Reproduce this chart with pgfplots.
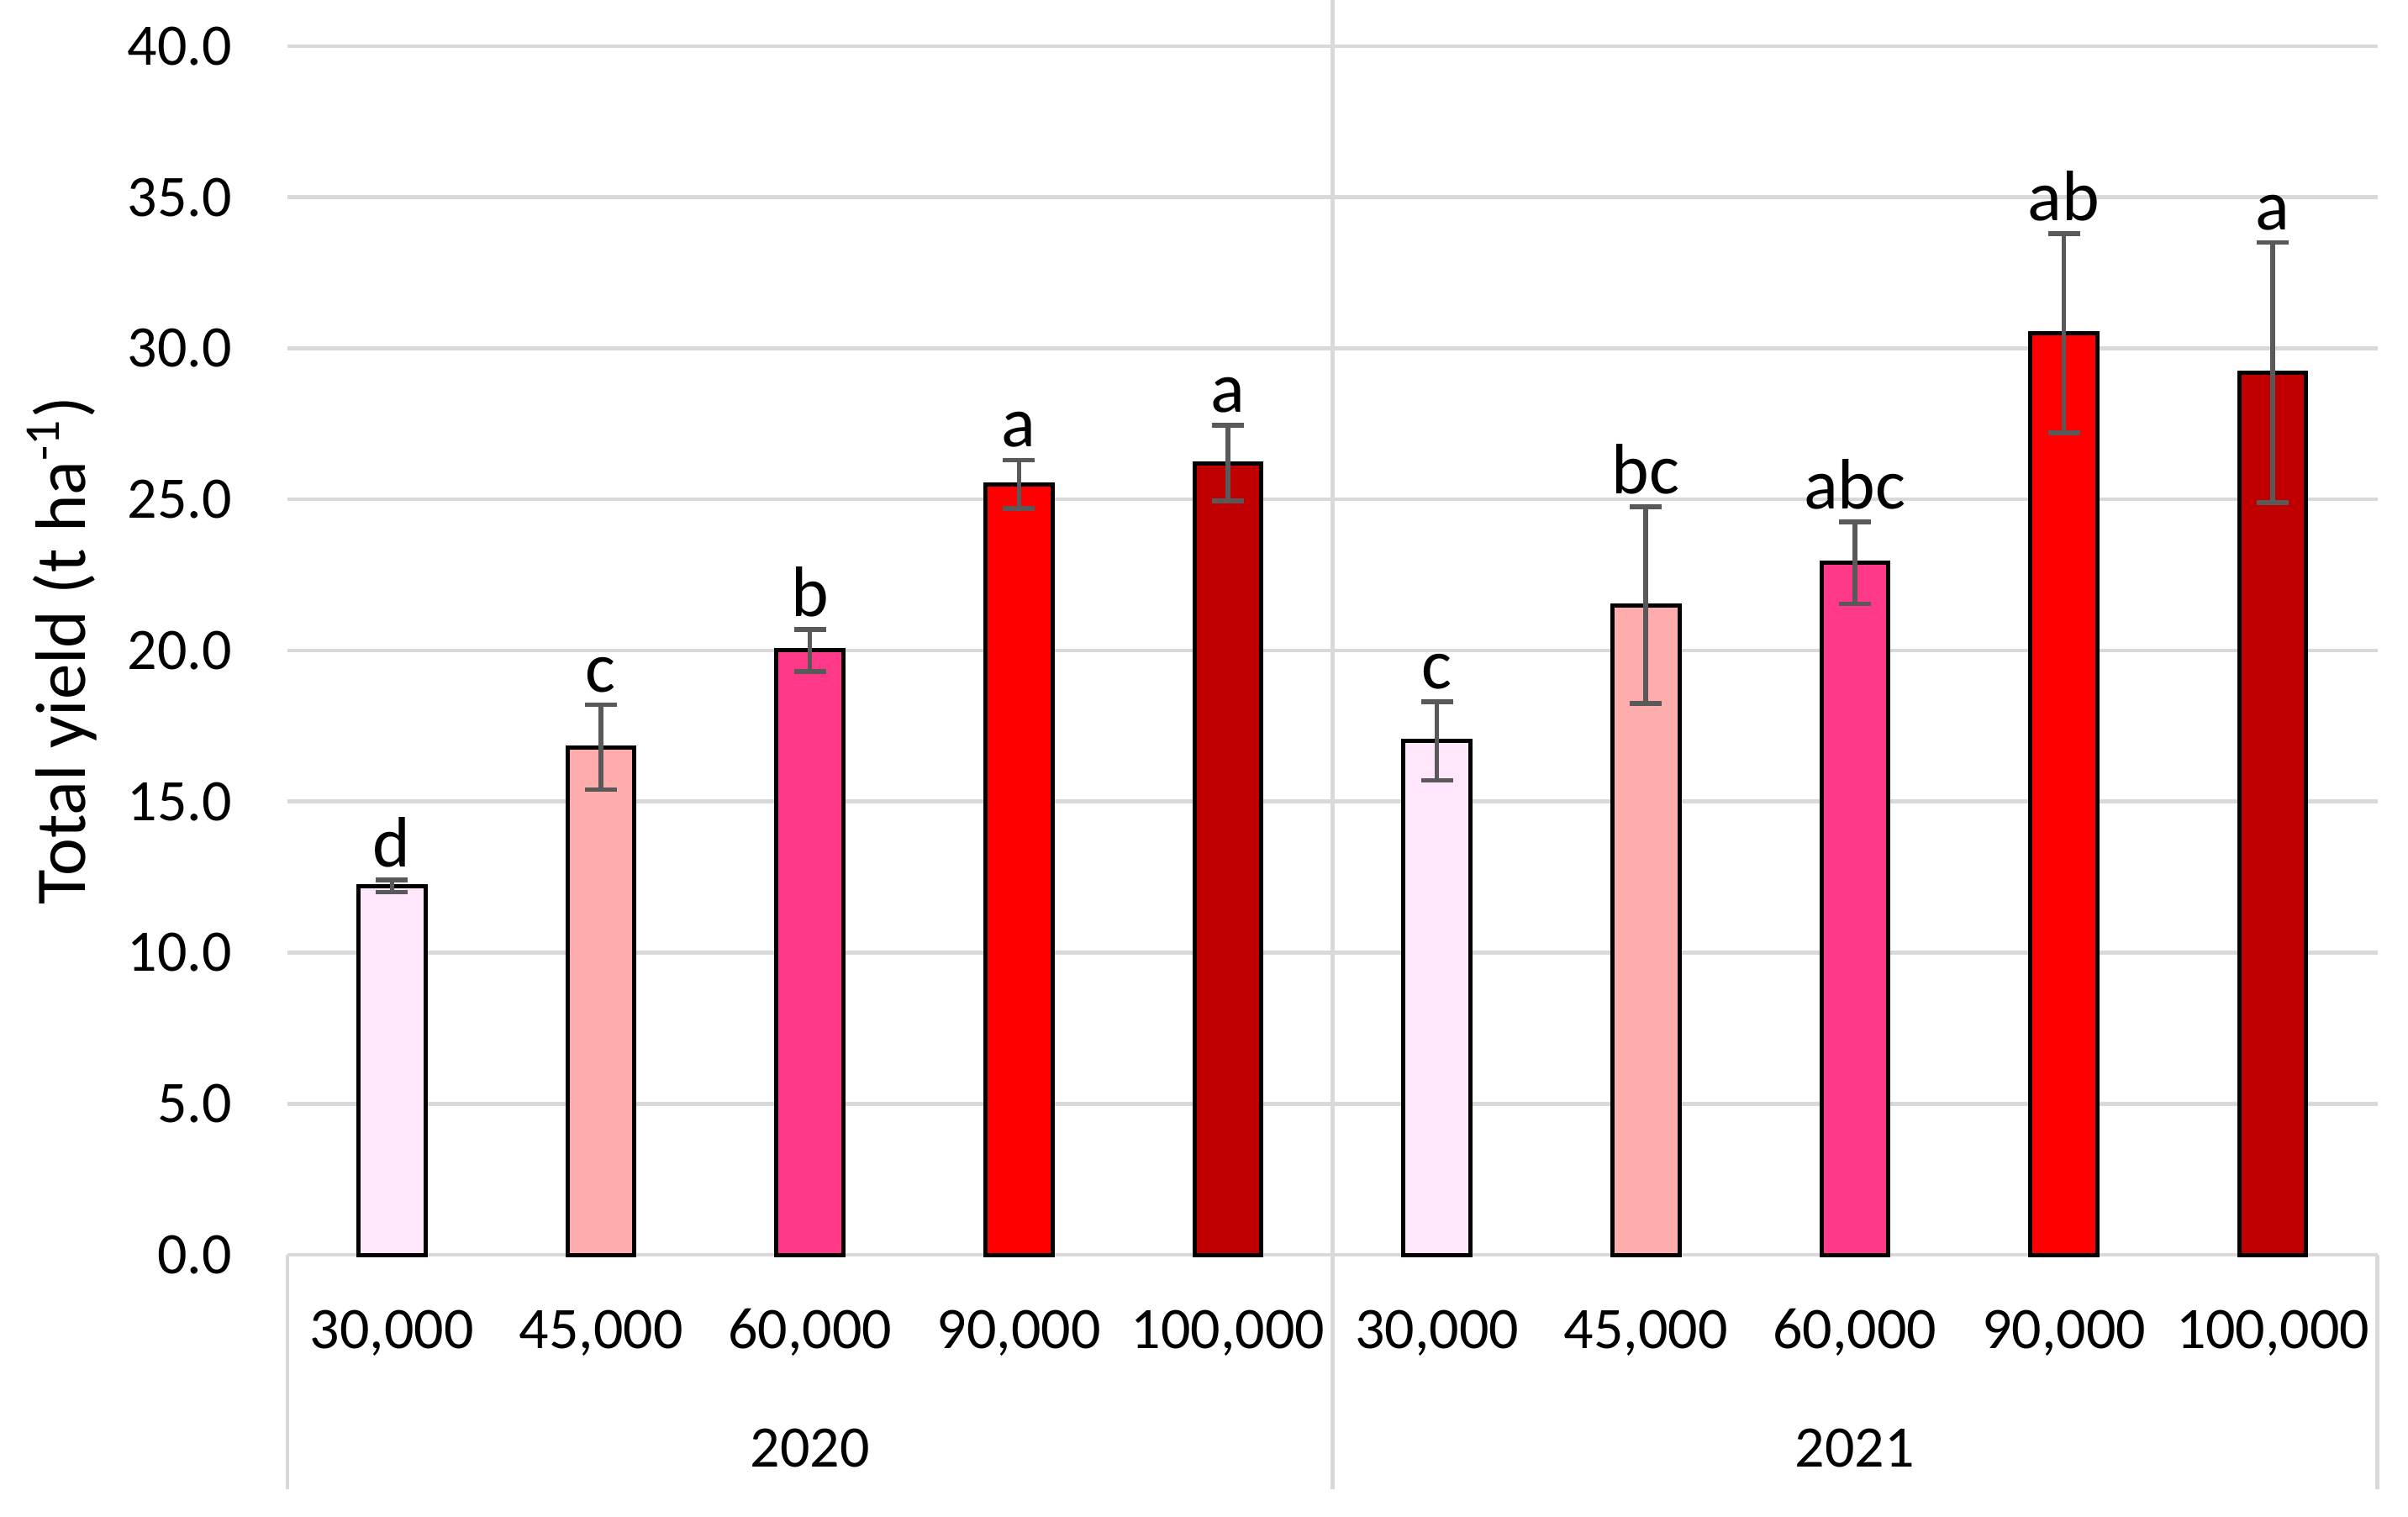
\documentclass[border=0pt]{standalone}
\usepackage{fontspec}
\setmainfont{Carlito}
\usepackage{pgfplots}
\pgfplotsset{compat=1.18}
\usepackage{pgfplotstable}
\definecolor{c1}{HTML}{FFE6FA}
\definecolor{c2}{HTML}{FFACAC}
\definecolor{c3}{HTML}{FF3888}
\definecolor{c4}{HTML}{FF0000}
\definecolor{c5}{HTML}{C00000}
\definecolor{gridc}{HTML}{D9D9D9}
\definecolor{errc}{HTML}{595959}

% x: 0-4 = 2020, 5-9 = 2021
\pgfplotstableread{
x y e lab
0 12.2 0.2 d
5 17.0 1.3 c
}\dA
\pgfplotstableread{
x y e lab
1 16.8 1.4 c
6 21.5 3.25 bc
}\dB
\pgfplotstableread{
x y e lab
2 20.0 0.7 b
7 22.9 1.35 abc
}\dC
\pgfplotstableread{
x y e lab
3 25.5 0.8 a
8 30.5 3.3 ab
}\dD
\pgfplotstableread{
x y e lab
4 26.2 1.25 a
9 29.2 4.3 a
}\dE

\pgfplotsset{
  mybar/.style={ybar, bar width=0.32, bar shift=0pt, draw=black, line width=1pt, fill=#1,
    error bars/.cd, y dir=both, y explicit,
    error bar style={errc, line width=1.1pt},
    error mark options={errc, line width=1.1pt, mark size=3.8pt, rotate=90}},
  mylab/.style={draw=none, mark=none, nodes near coords, point meta=explicit symbolic,
    nodes near coords style={font=\fontsize{17}{20}\selectfont, anchor=south, inner sep=2.8pt, text=black}}
}

\begin{document}
\begin{tikzpicture}
\useasboundingbox (-68.4pt,-62.4pt) rectangle (504.6pt,298.6pt);
\begin{axis}[
  at={(0,0)}, anchor=south west,
  width=497.3pt, height=287.6pt, scale only axis,
  xmin=-0.5, xmax=9.5, ymin=0, ymax=40,
  ytick={0,5,...,40},
  ymajorgrids, grid style={gridc, line width=0.9pt},
  axis line style={draw=none},
  major tick length=0pt,
  xtick={0,...,9},
  xticklabels={{30,000},{45,000},{60,000},{90,000},{100,000},{30,000},{45,000},{60,000},{90,000},{100,000}},
  xticklabel style={anchor=base, yshift=-22.2pt},
  yticklabel style={xshift=-9.7pt, /pgf/number format/.cd, fixed, fixed zerofill, precision=1, assume math mode=true},
  tick label style={font=\fontsize{14}{16}\selectfont},
  ylabel={Total yield (t ha\textsuperscript{-1})},
  ylabel style={font=\fontsize{17}{20}\selectfont, at={(axis description cs:-0.108,0.5)}, anchor=center},
  clip=false,
]
\addplot[mybar=c1] table[x=x, y=y, y error=e] {\dA};
\addplot[mybar=c2] table[x=x, y=y, y error=e] {\dB};
\addplot[mybar=c3] table[x=x, y=y, y error=e] {\dC};
\addplot[mybar=c4] table[x=x, y=y, y error=e] {\dD};
\addplot[mybar=c5] table[x=x, y=y, y error=e] {\dE};
\addplot[mylab] table[x=x, y expr=\thisrow{y}+\thisrow{e}, meta=lab] {\dA};
\addplot[mylab] table[x=x, y expr=\thisrow{y}+\thisrow{e}, meta=lab] {\dB};
\addplot[mylab] table[x=x, y expr=\thisrow{y}+\thisrow{e}, meta=lab] {\dC};
\addplot[mylab] table[x=x, y expr=\thisrow{y}+\thisrow{e}, meta=lab] {\dD};
\addplot[mylab] table[x=x, y expr=\thisrow{y}+\thisrow{e}, meta=lab] {\dE};
\draw[gridc, line width=0.9pt] (axis cs:-0.5,0) -- ([yshift=-55.8pt]axis cs:-0.5,0);
\draw[gridc, line width=0.9pt] (axis cs:9.5,0) -- ([yshift=-55.8pt]axis cs:9.5,0);
\draw[gridc, line width=0.9pt] ([yshift=298.6pt]axis cs:4.5,0) -- ([yshift=-55.8pt]axis cs:4.5,0);
\node[anchor=base, font=\fontsize{14}{16}\selectfont] at ([yshift=-50.4pt]axis cs:2,0) {2020};
\node[anchor=base, font=\fontsize{14}{16}\selectfont] at ([yshift=-50.4pt]axis cs:7,0) {2021};
\end{axis}
\end{tikzpicture}
\end{document}
